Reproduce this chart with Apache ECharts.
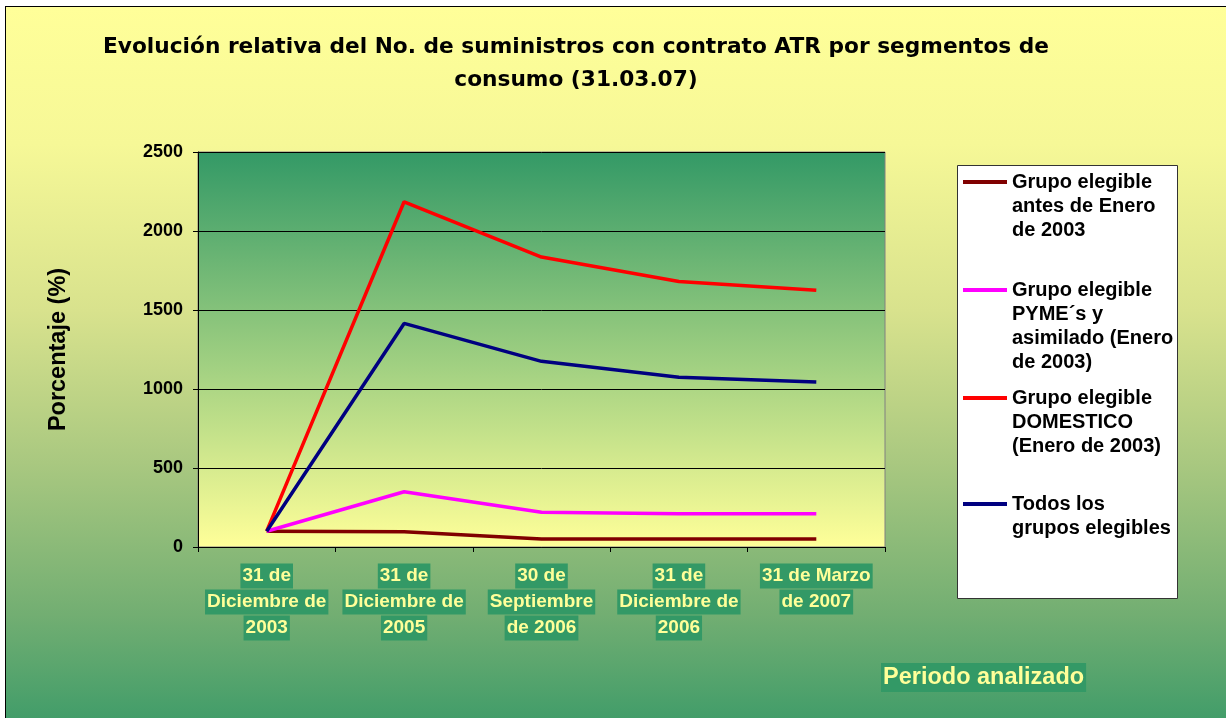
<!DOCTYPE html>
<html>
<head>
<meta charset="utf-8">
<script src="https://cdn.jsdelivr.net/npm/echarts@6/dist/echarts.min.js"></script>
<style>
html,body{margin:0;padding:0;width:1226px;height:718px;overflow:hidden;background:#fff;}
#bg{position:absolute;left:5px;top:6px;width:1260px;height:760px;border:1px solid #000;
background:linear-gradient(to bottom,#FFFF99 0%,#F6F897 18%,#D8E28D 40%,#A9C880 60%,#72AE72 80%,#3A9A68 96%,#339966 100%);}
#chart{position:absolute;left:0;top:0;width:1226px;height:718px;}
</style>
</head>
<body>
<div id="bg"></div>
<div id="chart"></div>
<script>
// ---- data ----
var categories = ['31 de\nDiciembre de\n2003', '31 de\nDiciembre de\n2005', '30 de\nSeptiembre\nde 2006', '31 de\nDiciembre de\n2006', '31 de Marzo\nde 2007'];
var seriesNames = ['Grupo elegible antes de Enero de 2003', 'Grupo elegible PYME´s y asimilado (Enero de 2003)', 'Grupo elegible DOMESTICO (Enero de 2003)', 'Todos los grupos elegibles'];
var legendLabels = ['Grupo elegible\nantes de Enero\nde 2003', 'Grupo elegible\nPYME´s y\nasimilado (Enero\nde 2003)', 'Grupo elegible\nDOMESTICO\n(Enero de 2003)', 'Todos los\ngrupos elegibles'];
var antes = [100, 97, 50, 50, 50];
var pyme = [100, 350, 220, 210, 210];
var domestico = [100, 2185, 1835, 1680, 1625];
var todos = [100, 1415, 1175, 1075, 1045];
var yTicks = [0, 500, 1000, 1500, 2000, 2500];
var colors = ['#800000', '#FF00FF', '#FF0000', '#000080'];
var seriesData = [antes, pyme, domestico, todos];

var FONT = '"Liberation Sans", Arial, sans-serif';
var chart = echarts.init(document.getElementById('chart'), null, {renderer: 'canvas'});

var legendIconCenters = [182, 290, 398, 504];
var LH = 24;
var legends = legendLabels.map(function (lbl, i) {
  var n = lbl.split('\n').length;
  var shown = new Array(n).join('\n') + lbl; // n-1 blank lines first so line 1 sits on the icon
  return {
    data: [seriesNames[i]],
    left: 963,
    top: legendIconCenters[i] - (2 * n - 1) * LH / 2,
    padding: 0,
    orient: 'vertical',
    icon: 'rect',
    itemWidth: 44,
    itemHeight: 4,
    itemGap: 5,
    formatter: function () { return shown; },
    textStyle: {
      fontFamily: FONT, fontWeight: 'bold', fontSize: 20, color: '#000',
      lineHeight: LH
    }
  };
});

var option = {
  animation: false,
  backgroundColor: 'transparent',
  color: colors,
  title: {
    text: 'Evolución relativa del No. de suministros con contrato ATR por segmentos de\nconsumo (31.03.07)',
    left: 576,
    top: 31,
    padding: 0,
    textAlign: 'center',
    textStyle: {fontFamily: '"DejaVu Sans", sans-serif', fontWeight: 'bold', fontSize: 21.7, lineHeight: 33, color: '#000'}
  },
  legend: legends,
  graphic: [{
    type: 'rect', z: 0,
    shape: {x: 957.5, y: 165.5, width: 220, height: 433},
    style: {fill: '#FFFFFF', stroke: '#333333', lineWidth: 1}
  }],
  grid: {
    left: 198, right: 341, top: 152, bottom: 171,
    show: true,
    outerBoundsMode: 'none',
    containLabel: false,
    borderColor: '#808080', borderWidth: 1,
    backgroundColor: {
      type: 'linear', x: 0, y: 0, x2: 0, y2: 1,
      colorStops: [{offset: 0, color: '#339966'}, {offset: 1, color: '#FFFF99'}]
    }
  },
  xAxis: {
    type: 'category',
    data: categories,
    boundaryGap: true,
    name: '{a|Periodo analizado}',
    nameLocation: 'end',
    nameGap: -4,
    nameMoveOverlap: false,
    nameTextStyle: {
      align: 'left', verticalAlign: 'top', padding: [116, 0, 0, 0],
      rich: {a: {fontFamily: FONT, fontWeight: 'bold', fontSize: 23.5, color: '#FFFF99', backgroundColor: '#339966', padding: [0, 2], height: 29, lineHeight: 29}}
    },
    axisLine: {lineStyle: {color: '#000', width: 1}},
    axisTick: {show: true, inside: false, length: 5, lineStyle: {color: '#000'}, alignWithLabel: false},
    axisLabel: {
      interval: 0,
      margin: 16,
      formatter: function (v) {
        return v.split('\n').map(function (s) { return '{b|' + s + '}'; }).join('\n');
      },
      rich: {b: {fontFamily: FONT, fontWeight: 'bold', fontSize: 19, color: '#FFFF99', backgroundColor: '#339966', padding: [0, 2], height: 25, lineHeight: 26}}
    },
    splitLine: {show: false}
  },
  yAxis: {
    type: 'value',
    min: yTicks[0], max: yTicks[yTicks.length - 1], interval: 500,
    name: 'Porcentaje (%)',
    nameLocation: 'middle',
    nameGap: 127,
    nameTextStyle: {fontFamily: FONT, fontWeight: 'bold', fontSize: 23.5, color: '#000'},
    axisLine: {show: true, lineStyle: {color: '#000', width: 1}},
    axisTick: {show: true, inside: false, length: 5, lineStyle: {color: '#000'}},
    axisLabel: {fontFamily: FONT, fontWeight: 'bold', fontSize: 18, color: '#000', margin: 15,
      formatter: function (v) { return String(v); }},
    splitLine: {show: true, lineStyle: {color: '#000', width: 1}}
  },
  series: seriesNames.map(function (nm, i) {
    return {
      name: nm,
      type: 'line',
      data: seriesData[i],
      symbol: 'none',
      lineStyle: {color: colors[i], width: 3.5},
      itemStyle: {color: colors[i]},
      z: 3 + i
    };
  })
};
chart.setOption(option);
</script>
</body>
</html>
